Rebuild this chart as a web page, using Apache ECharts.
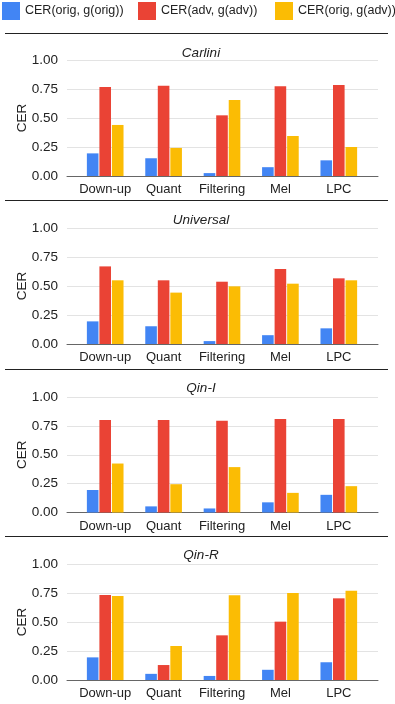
<!DOCTYPE html>
<html>
<head>
<meta charset="utf-8">
<script src="https://cdn.jsdelivr.net/npm/echarts@6/dist/echarts.min.js"></script>
<style>
html,body{margin:0;padding:0;background:#fff;}
#chart{width:395px;height:704px;}
</style>
</head>
<body>
<div id="chart"></div>
<script>
const categories = ['Down-up', 'Quant', 'Filtering', 'Mel', 'LPC'];
const panelTitles = ['Carlini', 'Universal', 'Qin-I', 'Qin-R'];
const seriesNames = ['CER(orig, g(orig))', 'CER(adv, g(adv))', 'CER(orig, g(adv))'];
const yTicks = [0, 0.25, 0.5, 0.75, 1.0];

const carliniOrig    = [0.195, 0.153, 0.025, 0.076, 0.135];
const carliniAdv     = [0.767, 0.779, 0.523, 0.773, 0.784];
const carliniOrigAdv = [0.440, 0.242, 0.655, 0.345, 0.250];

const universalOrig    = [0.195, 0.153, 0.025, 0.076, 0.135];
const universalAdv     = [0.669, 0.549, 0.537, 0.646, 0.566];
const universalOrigAdv = [0.549, 0.443, 0.497, 0.520, 0.549];

const qinIOrig    = [0.195, 0.053, 0.035, 0.088, 0.153];
const qinIAdv     = [0.800, 0.800, 0.795, 0.810, 0.810];
const qinIOrigAdv = [0.424, 0.245, 0.393, 0.170, 0.228];

const qinROrig    = [0.195, 0.053, 0.035, 0.088, 0.153];
const qinRAdv     = [0.733, 0.129, 0.385, 0.503, 0.704];
const qinROrigAdv = [0.724, 0.293, 0.730, 0.750, 0.770];

const panelData = [
  [carliniOrig, carliniAdv, carliniOrigAdv],
  [universalOrig, universalAdv, universalOrigAdv],
  [qinIOrig, qinIAdv, qinIOrigAdv],
  [qinROrig, qinRAdv, qinROrigAdv]
];

const colors = ['#4285F4', '#EA4335', '#FBBC04'];
const FONT = '"Liberation Sans", Arial, sans-serif';
const panelTop = [60, 228, 397, 564];
const panelHeight = [116, 116, 115.5, 116];
const titleTop = [41, 208, 376, 543];
const sepY = [33.5, 200.5, 369.5, 536.5];
const legendLeft = [2, 138, 275];

const grids = [], xAxes = [], yAxes = [], series = [], titles = [], graphics = [];
panelTitles.forEach(function (t, i) {
  grids.push({left: 67, right: 17, top: panelTop[i], height: panelHeight[i], containLabel: false});
  grids.push({left: 76, right: 27, top: panelTop[i], height: panelHeight[i], containLabel: false});
  const g0 = 2 * i, g1 = 2 * i + 1;
  xAxes.push({
    type: 'value', gridIndex: g0, min: 0, max: 1,
    axisLine: {show: true, onZero: false, lineStyle: {color: '#666', width: 1}},
    axisTick: {show: false}, axisLabel: {show: false}, splitLine: {show: false}
  });
  xAxes.push({
    type: 'category', gridIndex: g1, data: categories,
    axisLine: {show: false}, axisTick: {show: false},
    axisLabel: {color: '#222', fontSize: 13, fontFamily: FONT, margin: 7, interval: 0}
  });
  yAxes.push({
    type: 'value', gridIndex: g0, min: yTicks[0], max: yTicks[yTicks.length - 1], interval: yTicks[1] - yTicks[0],
    name: 'CER', nameLocation: 'middle', nameGap: 38, nameMoveOverlap: false,
    nameTextStyle: {color: '#222', fontSize: 13.5, fontFamily: FONT},
    axisLine: {show: false}, axisTick: {show: false},
    axisLabel: {color: '#222', fontSize: 13.5, fontFamily: FONT, margin: 9, formatter: function (v) { return v.toFixed(2); }},
    splitLine: {show: true, lineStyle: {color: '#e3e3e3', width: 1}}
  });
  yAxes.push({
    type: 'value', gridIndex: g1, min: 0, max: 1, show: false,
    splitLine: {show: false}
  });
  panelData[i].forEach(function (arr, k) {
    series.push({
      name: seriesNames[k], type: 'bar', xAxisIndex: g1, yAxisIndex: g1,
      data: arr, barWidth: 11.6, barGap: '8%',
      itemStyle: {color: colors[k]}
    });
  });
  titles.push({
    text: t, left: 196, top: titleTop[i], textAlign: 'center',
    textStyle: {fontSize: 13.5, fontStyle: 'italic', fontWeight: 'normal', color: '#222', fontFamily: FONT}
  });
  graphics.push({
    type: 'line', shape: {x1: 5, y1: sepY[i], x2: 388, y2: sepY[i]},
    style: {stroke: '#222', lineWidth: 1}, silent: true
  });
});

const legends = seriesNames.map(function (n, k) {
  return {
    data: [n], top: 2, left: legendLeft[k], icon: 'rect',
    itemWidth: 18, itemHeight: 18, itemGap: 0, padding: 0,
    textStyle: {fontSize: 12.5, color: '#222', fontFamily: FONT}
  };
});

const chart = echarts.init(document.getElementById('chart'), null, {renderer: 'canvas'});
chart.setOption({
  animation: false,
  backgroundColor: '#fff',
  color: colors,
  title: titles,
  legend: legends,
  grid: grids,
  xAxis: xAxes,
  yAxis: yAxes,
  series: series,
  graphic: graphics
});
</script>
</body>
</html>
